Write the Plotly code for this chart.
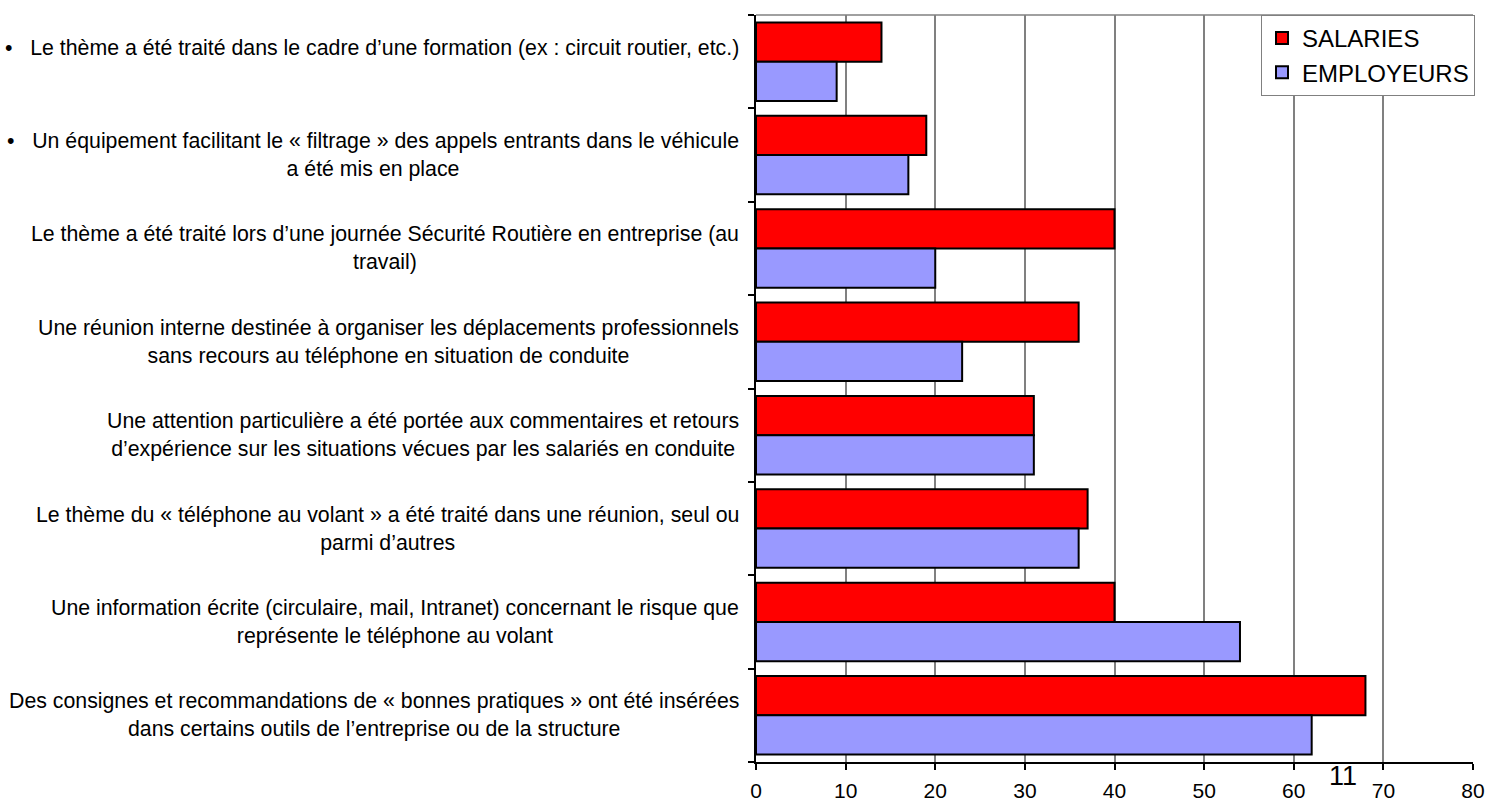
import plotly.graph_objects as go

categories = [
    "•   Le thème a été traité dans le cadre d’une formation (ex : circuit routier, etc.)",
    "•   Un équipement facilitant le « filtrage » des appels entrants dans le véhicule<br>a été mis en place",
    "Le thème a été traité lors d’une journée Sécurité Routière en entreprise (au<br>travail)",
    "Une réunion interne destinée à organiser les déplacements professionnels<br>sans recours au téléphone en situation de conduite",
    "Une attention particulière a été portée aux commentaires et retours<br>d’expérience sur les situations vécues par les salariés en conduite",
    "Le thème du « téléphone au volant » a été traité dans une réunion, seul ou<br>parmi d’autres",
    "Une information écrite (circulaire, mail, Intranet) concernant le risque que<br>représente le téléphone au volant",
    "Des consignes et recommandations de « bonnes pratiques » ont été insérées<br>dans certains outils de l’entreprise ou de la structure",
]
salaries = [14, 19, 40, 36, 31, 37, 40, 68]
employeurs = [9, 17, 20, 23, 31, 36, 54, 62]
x_ticks = [0, 10, 20, 30, 40, 50, 60, 70, 80]
page_number = "11"

FONT = "Liberation Sans, Arial, sans-serif"
LABEL_SIZE = 21.3
pos = list(range(len(categories)))

fig = go.Figure()
fig.add_trace(go.Bar(y=pos, x=salaries, orientation="h", name="SALARIES",
                     marker=dict(color="#FF0000", line=dict(color="black", width=2))))
fig.add_trace(go.Bar(y=pos, x=employeurs, orientation="h", name="EMPLOYEURS",
                     marker=dict(color="#9999FF", line=dict(color="black", width=2))))

annotations = []
for i, lab in enumerate(categories):
    n = lab.count("<br>") + 1
    text = lab if n > 1 else lab + "<br> "
    annotations.append(dict(text=text, xref="paper", x=0, xshift=-15, xanchor="right",
                            yref="y", y=i, yanchor="middle",
                            showarrow=False, align="center",
                            font=dict(family=FONT, size=LABEL_SIZE, color="black")))

annotations.append(dict(text=page_number, xref="paper", yref="paper",
                        x=(1343 - 756) / 717, y=-14 / 747, xanchor="center", yanchor="middle",
                        showarrow=False, font=dict(family=FONT, size=27, color="black")))

fig.update_layout(
    width=1488, height=801,
    margin=dict(l=756, r=15, t=15, b=39, autoexpand=False),
    paper_bgcolor="white", plot_bgcolor="white",
    barmode="group", bargap=0.16, bargroupgap=0,
    font=dict(family=FONT, color="black"),
    showlegend=True,
    legend=dict(x=(1475 - 756) / 717, y=1, xanchor="right", yanchor="top",
                bgcolor="white", bordercolor="#808080", borderwidth=1,
                font=dict(family=FONT, size=24, color="black"),
                tracegroupgap=0, itemwidth=30),
    annotations=annotations,
    xaxis=dict(range=[0, 80], tickvals=x_ticks, ticktext=[str(t) for t in x_ticks],
               showgrid=True, gridcolor="#808080", gridwidth=1.5,
               showline=True, linecolor="black", linewidth=1.5,
               ticks="outside", ticklen=6, tickcolor="black", tickwidth=1.5,
               ticklabelstandoff=3, automargin=False,
               tickfont=dict(family=FONT, size=21, color="black"),
               zeroline=False, fixedrange=True),
    yaxis=dict(range=[len(categories) - 0.5, -0.5],
               tickvals=[k - 0.5 for k in range(len(categories) + 1)],
               showticklabels=False, showgrid=False, zeroline=False, automargin=False,
               showline=True, linecolor="black", linewidth=1.5,
               ticks="outside", ticklen=6, tickcolor="black", tickwidth=1.5),
    shapes=[dict(type="line", xref="paper", yref="paper", x0=0, x1=1, y0=1, y1=1,
                 line=dict(color="#808080", width=1.5))],
)

fig.write_html("out.html")
